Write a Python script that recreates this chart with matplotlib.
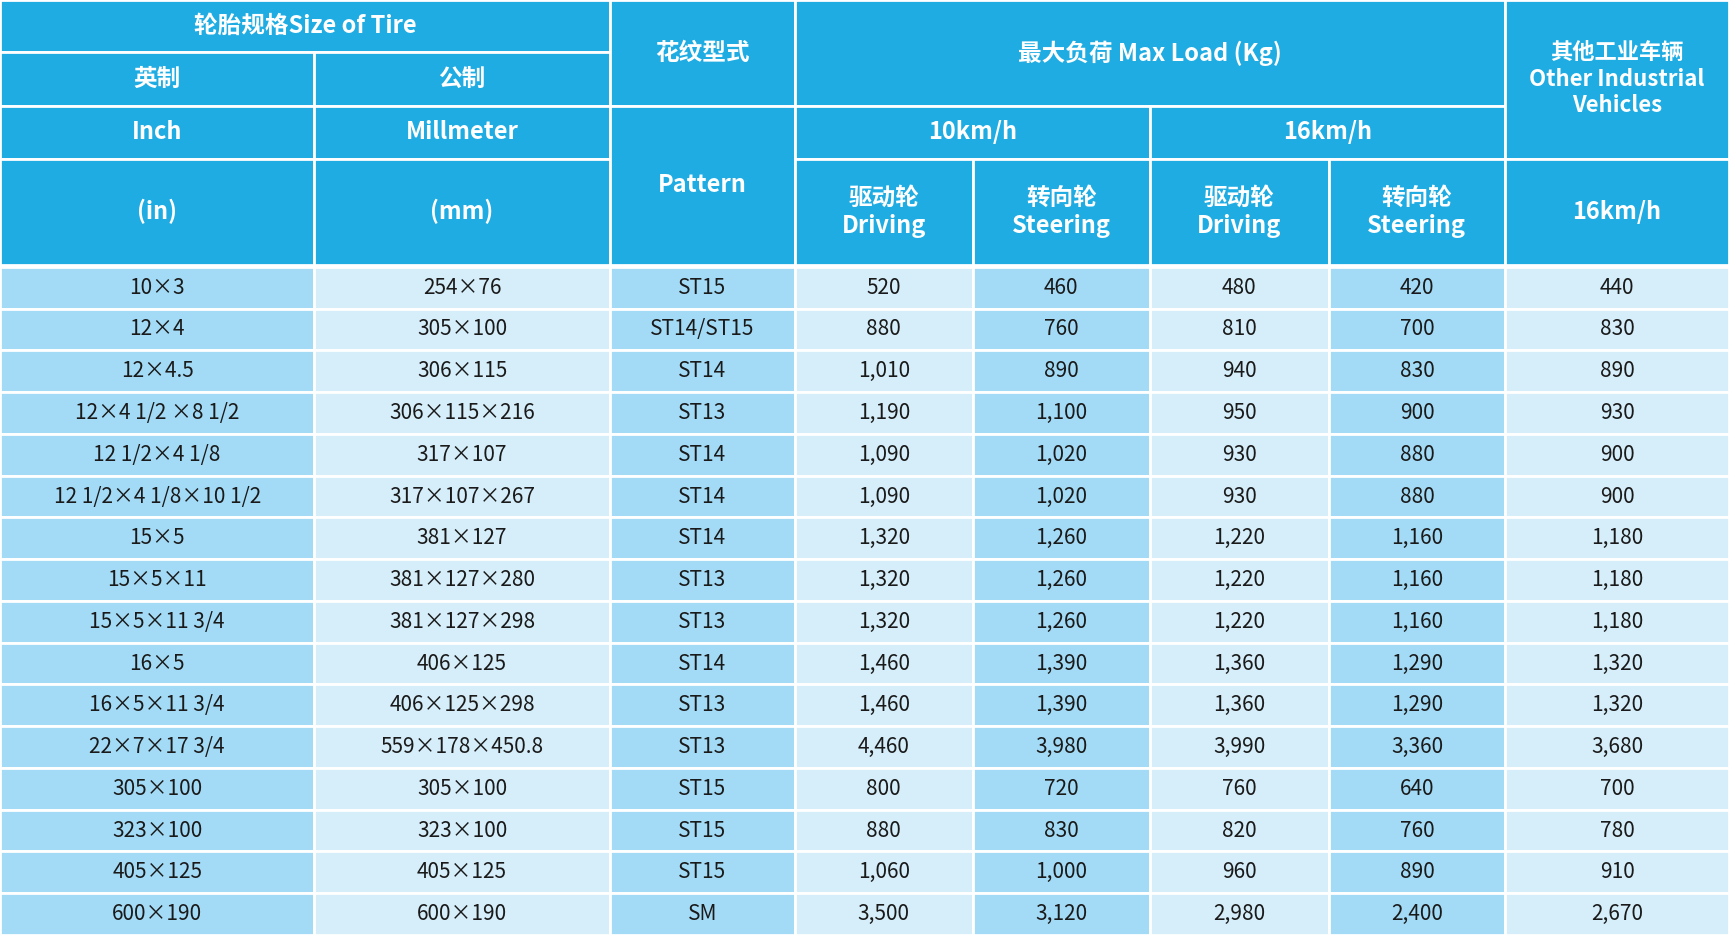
import matplotlib.pyplot as plt
from matplotlib.patches import Rectangle

HEAD = '#1eace3'
DARK = '#a3dbf6'
LIGHT = '#d5eefa'
TXT = '#1a1a1a'
FONT = 'Noto Sans CJK SC'

inch = ['10×3', '12×4', '12×4.5', '12×4 1/2 ×8 1/2', '12 1/2×4 1/8', '12 1/2×4 1/8×10 1/2',
        '15×5', '15×5×11', '15×5×11 3/4', '16×5', '16×5×11 3/4', '22×7×17 3/4',
        '305×100', '323×100', '405×125', '600×190']
mm = ['254×76', '305×100', '306×115', '306×115×216', '317×107', '317×107×267',
      '381×127', '381×127×280', '381×127×298', '406×125', '406×125×298', '559×178×450.8',
      '305×100', '323×100', '405×125', '600×190']
pattern = ['ST15', 'ST14/ST15', 'ST14', 'ST13', 'ST14', 'ST14', 'ST14', 'ST13', 'ST13',
           'ST14', 'ST13', 'ST13', 'ST15', 'ST15', 'ST15', 'SM']
drive10 = [520, 880, 1010, 1190, 1090, 1090, 1320, 1320, 1320, 1460, 1460, 4460, 800, 880, 1060, 3500]
steer10 = [460, 760, 890, 1100, 1020, 1020, 1260, 1260, 1260, 1390, 1390, 3980, 720, 830, 1000, 3120]
drive16 = [480, 810, 940, 950, 930, 930, 1220, 1220, 1220, 1360, 1360, 3990, 760, 820, 960, 2980]
steer16 = [420, 700, 830, 900, 880, 880, 1160, 1160, 1160, 1290, 1290, 3360, 640, 760, 890, 2400]
other16 = [440, 830, 890, 930, 900, 900, 1180, 1180, 1180, 1320, 1320, 3680, 700, 780, 910, 2670]

cols = [0, 285, 553, 721, 882, 1043, 1205, 1365, 1568]
W, H = 1568, 848
top = 242
rh = (H - top) / 16

fig = plt.figure(figsize=(17.29, 9.35), dpi=100)
ax = fig.add_axes([0, 0, 1, 1])
ax.set_xlim(0, W)
ax.set_ylim(H, 0)
ax.axis('off')


def cell(x0, x1, y0, y1, color, text='', size=15, weight='normal', tc=TXT):
    ax.add_patch(Rectangle((x0, y0), x1 - x0, y1 - y0, facecolor=color,
                           edgecolor='white', linewidth=2))
    if text:
        ax.text((x0 + x1) / 2, (y0 + y1) / 2, text, ha='center', va='center',
                fontsize=size, fontweight=weight, color=tc, family=FONT, linespacing=1.2)


def head(x0, x1, y0, y1, text, size=17):
    cell(x0, x1, y0, y1, HEAD, text, size, 'bold', 'white')


head(cols[0], cols[2], 0, 47, '轮胎规格Size of Tire')
head(cols[0], cols[1], 47, 96, '英制')
head(cols[1], cols[2], 47, 96, '公制')
head(cols[0], cols[1], 96, 144, 'Inch')
head(cols[1], cols[2], 96, 144, 'Millmeter')
head(cols[0], cols[1], 144, 240, '(in)')
head(cols[1], cols[2], 144, 240, '(mm)')
head(cols[2], cols[3], 0, 96, '花纹型式')
head(cols[2], cols[3], 96, 240, 'Pattern')
head(cols[3], cols[7], 0, 96, '最大负荷 Max Load (Kg)')
head(cols[3], cols[5], 96, 144, '10km/h')
head(cols[5], cols[7], 96, 144, '16km/h')
for i, lab in enumerate(['驱动轮\nDriving', '转向轮\nSteering', '驱动轮\nDriving', '转向轮\nSteering']):
    head(cols[3 + i], cols[4 + i], 144, 240, lab)
head(cols[7], cols[8], 0, 144, '其他工业车辆\nOther Industrial\nVehicles', size=16)
head(cols[7], cols[8], 144, 240, '16km/h')

series = [inch, mm, pattern,
          [f'{v:,}' for v in drive10], [f'{v:,}' for v in steer10],
          [f'{v:,}' for v in drive16], [f'{v:,}' for v in steer16],
          [f'{v:,}' for v in other16]]
for c, vals in enumerate(series):
    color = DARK if c % 2 == 0 else LIGHT
    for r, v in enumerate(vals):
        cell(cols[c], cols[c + 1], top + r * rh, top + (r + 1) * rh, color, v)

fig.savefig('out.png', dpi=100, facecolor='white')
